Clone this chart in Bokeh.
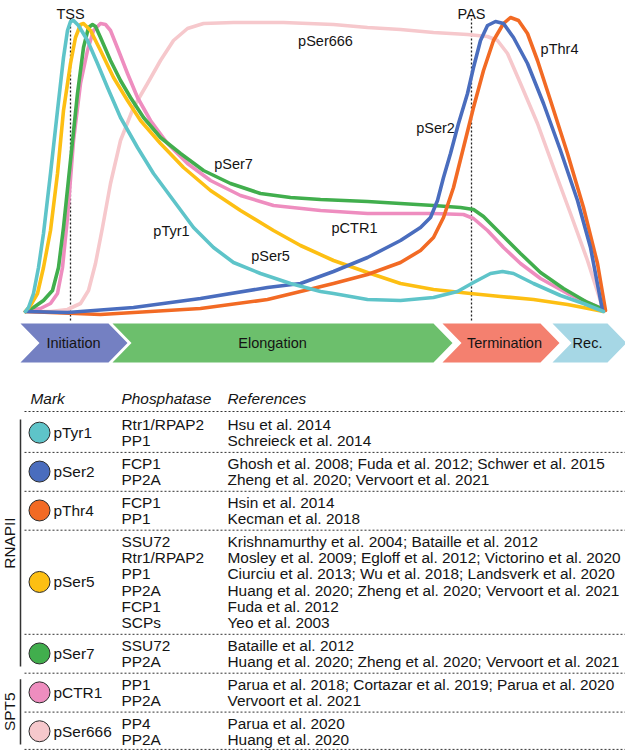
import math
from bokeh.plotting import figure
from bokeh.models import Range1d
from bokeh.core.properties import value
from bokeh.embed import file_html
from bokeh.resources import INLINE

FONT = value("Liberation Sans")
INK = "#141414"
TABLE_SIZE = "15.4px"

# ---------------- curve data (position along gene, signal drawn downward-up) ----------------
pTyr1_x = [25, 28, 33, 38, 43, 50, 57, 63, 67, 70, 73, 78, 87, 97, 107, 120, 137, 153, 173, 193, 213, 233,
           260, 290, 320, 333, 367, 400, 433, 457, 473, 490, 502, 513, 533, 560, 583, 603]
pTyr1_y = [311, 307, 293, 267, 233, 173, 110, 57, 30, 21, 20, 25, 40, 63, 87, 117, 147, 173, 200, 227, 247, 262,
           273, 283, 291, 293, 299, 300, 297, 291, 282, 273, 271, 273, 283, 295, 303, 311]

pSer5_x = [25, 30, 37, 43, 50, 57, 63, 70, 75, 80, 83, 90, 100, 113, 127, 140, 160, 183, 210, 240, 273, 300,
           333, 367, 400, 433, 470, 500, 533, 567, 603]
pSer5_y = [311, 305, 293, 267, 230, 173, 110, 63, 37, 24, 23, 30, 50, 77, 100, 120, 143, 167, 190, 210, 230, 245,
           260, 272, 283, 289, 293, 296, 299, 304, 311]

pSer7_x = [25, 33, 43, 52, 58, 63, 70, 77, 83, 88, 92, 95, 100, 110, 120, 130, 143, 160, 180, 203, 230, 260,
           290, 320, 367, 400, 433, 460, 473, 483, 500, 520, 540, 563, 587, 603]
pSer7_y = [311, 307, 300, 290, 267, 227, 160, 93, 47, 27, 24, 26, 37, 60, 80, 97, 117, 137, 153, 170, 183, 193,
           197, 199, 201, 203, 205, 207, 209, 216, 233, 253, 272, 288, 302, 309]

pCTR1_x = [25, 40, 50, 57, 62, 67, 73, 80, 87, 93, 100, 105, 110, 118, 127, 137, 150, 167, 187, 210, 240, 273,
           320, 367, 400, 433, 463, 473, 487, 503, 520, 540, 567, 603]
pCTR1_y = [311, 308, 303, 293, 267, 217, 140, 83, 50, 30, 23, 24, 30, 50, 73, 97, 120, 143, 163, 180, 195, 205,
           210, 213, 213, 213, 214, 218, 230, 247, 263, 278, 293, 309]

pSer666_x = [25, 50, 67, 80, 88, 95, 102, 110, 120, 133, 147, 160, 173, 187, 203, 233, 283, 333, 367, 400, 433,
             467, 487, 497, 507, 520, 537, 553, 570, 587, 603]
pSer666_y = [311, 311, 309, 303, 290, 263, 227, 183, 140, 107, 83, 60, 40, 28, 23, 22, 22, 24, 27, 29, 32,
             34, 36, 40, 53, 83, 123, 167, 213, 260, 310]

pSer2_x = [25, 67, 133, 200, 267, 300, 333, 367, 400, 420, 430, 437, 443, 450, 458, 467, 473, 480, 487, 495,
           503, 513, 527, 543, 560, 577, 590, 602]
pSer2_y = [311, 312, 307, 298, 287, 283, 271, 257, 240, 227, 217, 200, 177, 153, 123, 93, 67, 40, 25, 21,
           23, 37, 63, 103, 150, 200, 247, 310]

pThr4_x = [25, 100, 200, 267, 300, 333, 367, 400, 420, 433, 443, 453, 463, 473, 483, 493, 503, 510, 518, 527,
           537, 550, 567, 583, 597, 605]
pThr4_y = [311, 314, 308, 299, 291, 283, 274, 262, 250, 237, 217, 187, 147, 107, 70, 40, 23, 17, 20, 33,
           60, 100, 153, 207, 263, 310]

# ---------------- table data ----------------
marks = ["pTyr1", "pSer2", "pThr4", "pSer5", "pSer7", "pCTR1", "pSer666"]
mark_colors = ["#5EC4C9", "#4A6DBE", "#F26A24", "#FDBF13", "#41AE4D", "#EE8DBF", "#F6C8CC"]
phosphatases = [
    ["Rtr1/RPAP2", "PP1"],
    ["FCP1", "PP2A"],
    ["FCP1", "PP1"],
    ["SSU72", "Rtr1/RPAP2", "PP1", "PP2A", "FCP1", "SCPs"],
    ["SSU72", "PP2A"],
    ["PP1", "PP2A"],
    ["PP4", "PP2A"],
]
references = [
    ["Hsu et al. 2014", "Schreieck et al. 2014"],
    ["Ghosh et al. 2008; Fuda et al. 2012; Schwer et al. 2015", "Zheng et al. 2020; Vervoort et al. 2021"],
    ["Hsin et al. 2014", "Kecman et al. 2018"],
    ["Krishnamurthy et al. 2004; Bataille et al. 2012",
     "Mosley et al. 2009; Egloff et al. 2012; Victorino et al. 2020",
     "Ciurciu et al. 2013; Wu et al. 2018; Landsverk et al. 2020",
     "Huang et al. 2020; Zheng et al. 2020; Vervoort et al. 2021",
     "Fuda et al. 2012",
     "Yeo et al. 2003"],
    ["Bataille et al. 2012", "Huang et al. 2020; Zheng et al. 2020; Vervoort et al. 2021"],
    ["Parua et al. 2018; Cortazar et al. 2019; Parua et al. 2020", "Vervoort et al. 2021"],
    ["Parua et al. 2020", "Huang et al. 2020"],
]
complexes = ["RNAPII", "SPT5"]
complex_sizes = [5, 2]
headers = ["Mark", "Phosphatase", "References"]

phases = ["Initiation", "Elongation", "Termination", "Rec."]
phase_colors = ["#7480C2", "#6CBF6C", "#F4806F", "#A6D7E5"]
phase_start = [20, 112, 442, 552]
phase_end = [108, 433, 540, 607]
landmarks = ["TSS", "PAS"]
landmark_x = [70, 471]

p = figure(width=625, height=750, x_range=Range1d(0, 625), y_range=Range1d(750, 0),
           output_backend="svg", toolbar_location=None, min_border=0,
           x_axis_location=None, y_axis_location=None)
p.grid.visible = False
p.outline_line_color = None
p.background_fill_color = "white"
p.border_fill_color = "white"

# landmarks
p.segment(x0=landmark_x, y0=[18] * 2, x1=landmark_x, y1=[320] * 2,
          line_color="#222222", line_width=1.3, line_dash="2 2")
p.text(x=landmark_x, y=[13] * 2, text=landmarks, text_font=FONT, text_font_size="14.5px",
       text_align="center", text_baseline="alphabetic", text_color=INK)

# curves
curves = [
    (pSer666_x, pSer666_y, mark_colors[6]),
    (pCTR1_x, pCTR1_y, mark_colors[5]),
    (pSer7_x, pSer7_y, mark_colors[4]),
    (pSer5_x, pSer5_y, mark_colors[3]),
    (pThr4_x, pThr4_y, mark_colors[2]),
    (pSer2_x, pSer2_y, mark_colors[1]),
    (pTyr1_x, pTyr1_y, mark_colors[0]),
]
for xs, ys, c in curves:
    p.line(xs, ys, line_color=c, line_width=3.6, line_join="round", line_cap="round")

label_x = [171, 435, 559, 270, 233, 354, 325]
label_y = [230, 127, 48, 255, 163, 227, 40]
p.text(x=label_x, y=label_y, text=marks, text_font=FONT, text_font_size="14.5px",
       text_align="center", text_baseline="middle", text_color=INK)

# phase chevrons
top, bot, mid, tip = 323, 362, 342.5, 19
cx, cy = [], []
for L, R in zip(phase_start, phase_end):
    cx.append([L, R, R + tip, R, L, L + tip])
    cy.append([top, top, mid, bot, bot, mid])
p.patches(cx, cy, fill_color=phase_colors, line_color=None)
phase_label_x = [73, 272, 504, 587]
p.text(x=phase_label_x, y=[mid] * 4, text=phases, text_font=FONT, text_font_size="14.5px",
       text_align="center", text_baseline="middle", text_color=INK)

# table
col_x = [30, 121, 227]
p.text(x=col_x, y=[398] * 3, text=headers, text_font=FONT, text_font_size=TABLE_SIZE,
       text_font_style="italic", text_align="left", text_baseline="middle", text_color=INK)

k = 0
group_rows = []
for g, phs in enumerate(phosphatases):
    ys = [424 + 16.3 * (k + i) + 6.3 * g for i in range(len(phs))]
    k += len(phs)
    group_rows.append(ys)

sep_y = [411] + [ys[0] - 11 for ys in group_rows[1:]] + [group_rows[-1][-1] + 10]
p.segment(x0=[24] * len(sep_y), y0=sep_y, x1=[625] * len(sep_y), y1=sep_y,
          line_color="#333333", line_width=1, line_dash="2 2")

ph_y, ph_t, rf_t = [], [], []
for ys, phs, refs in zip(group_rows, phosphatases, references):
    for y, a, b in zip(ys, phs, refs):
        ph_y.append(y); ph_t.append(a); rf_t.append(b)
p.text(x=[col_x[1]] * len(ph_t), y=ph_y, text=ph_t, text_font=FONT, text_font_size=TABLE_SIZE,
       text_align="left", text_baseline="middle", text_color=INK)
p.text(x=[col_x[2]] * len(rf_t), y=ph_y, text=rf_t, text_font=FONT, text_font_size=TABLE_SIZE,
       text_align="left", text_baseline="middle", text_color=INK)

mark_y = [sum(ys) / len(ys) for ys in group_rows]
p.scatter(x=[39] * len(marks), y=mark_y, size=21, marker="circle", fill_color=mark_colors,
          line_color="#2b2b2b", line_width=1)
p.text(x=[53] * len(marks), y=mark_y, text=marks, text_font=FONT, text_font_size=TABLE_SIZE,
       text_align="left", text_baseline="middle", text_color=INK)

# complex brackets
start = 0
by0, by1, gl_y = [], [], []
for name, n in zip(complexes, complex_sizes):
    rows = [y for ys in group_rows[start:start + n] for y in ys]
    start += n
    y0, y1 = rows[0] - 5, rows[-1] + 5
    by0.append(y0); by1.append(y1); gl_y.append((y0 + y1) / 2)
p.segment(x0=[20] * 2, y0=by0, x1=[20] * 2, y1=by1, line_color="#333333", line_width=1.5)
p.text(x=[9] * 2, y=gl_y, text=complexes, angle=math.pi / 2, text_font=FONT, text_font_size=TABLE_SIZE,
       text_align="center", text_baseline="middle", text_color=INK)

open("out.html", "w").write(file_html(p, INLINE))
